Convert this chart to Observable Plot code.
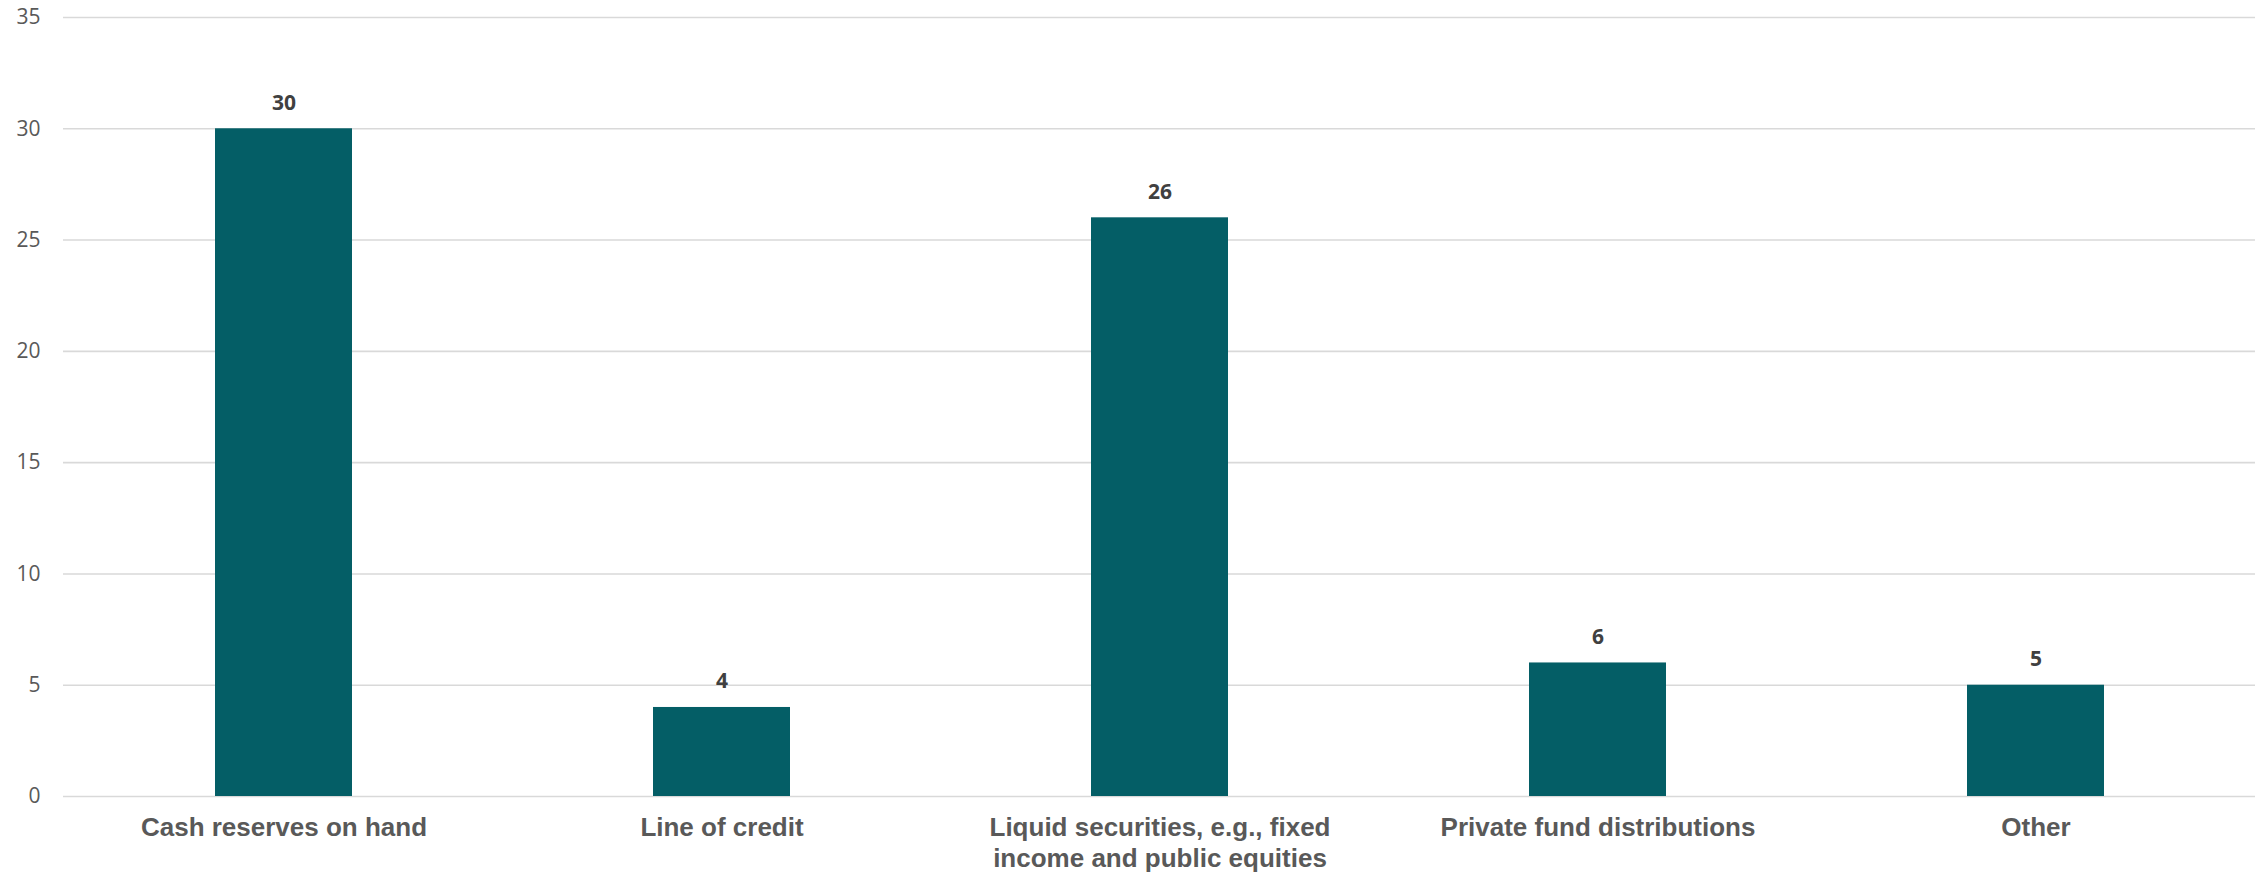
<!DOCTYPE html>
<html>
<head>
<meta charset="utf-8">
<script src="https://cdn.jsdelivr.net/npm/d3@7"></script>
<script src="https://cdn.jsdelivr.net/npm/@observablehq/plot@0.6"></script>
<style>
  html, body { margin: 0; padding: 0; background: #ffffff; }
  #chart svg { display: block; }
</style>
</head>
<body>
<div id="chart"></div>
<script>
// Funding sources for capital calls (count of responses)
const categories = [
  "Cash reserves on hand",
  "Line of credit",
  "Liquid securities, e.g., fixed\nincome and public equities",
  "Private fund distributions",
  "Other"
];
const values = [30, 4, 26, 6, 5];
const yTicks = [0, 5, 10, 15, 20, 25, 30, 35];

const data = categories.map((category, i) => ({category, value: values[i]}));

const chart = Plot.plot({
  width: 2264,
  height: 874,
  marginTop: 17,
  marginBottom: 78,
  marginLeft: 63,
  marginRight: 9,
  style: {background: "#ffffff"},
  x: {domain: categories, paddingInner: 0.6875, paddingOuter: 0.34375, label: null},
  y: {domain: [0, 35], label: null},
  marks: [
    Plot.gridY(yTicks, {stroke: "#d9d9d9", strokeOpacity: 1, strokeWidth: 1.6}),
    Plot.axisY(yTicks, {
      tickSize: 0,
      tickPadding: 23,
      fontSize: 21,
      fontFamily: "Open Sans",
      fill: "#595959",
      label: null
    }),
    Plot.axisX({
      tickSize: 0,
      tickPadding: 18,
      fontSize: 26,
      fontWeight: "bold",
      fontFamily: "Liberation Sans, Arial, sans-serif",
      fill: "#595959",
      lineHeight: 1.19,
      lineWidth: 100,
      label: null
    }),
    Plot.barY(data, {x: "category", y: "value", fill: "#045e66"}),
    Plot.text(data, {
      x: "category",
      y: "value",
      text: d => String(d.value),
      lineAnchor: "bottom",
      dy: -19,
      fontSize: 21,
      fontWeight: "bold",
      fontFamily: "Open Sans",
      fill: "#404040"
    })
  ]
});

document.getElementById("chart").appendChild(chart);
</script>
</body>
</html>
